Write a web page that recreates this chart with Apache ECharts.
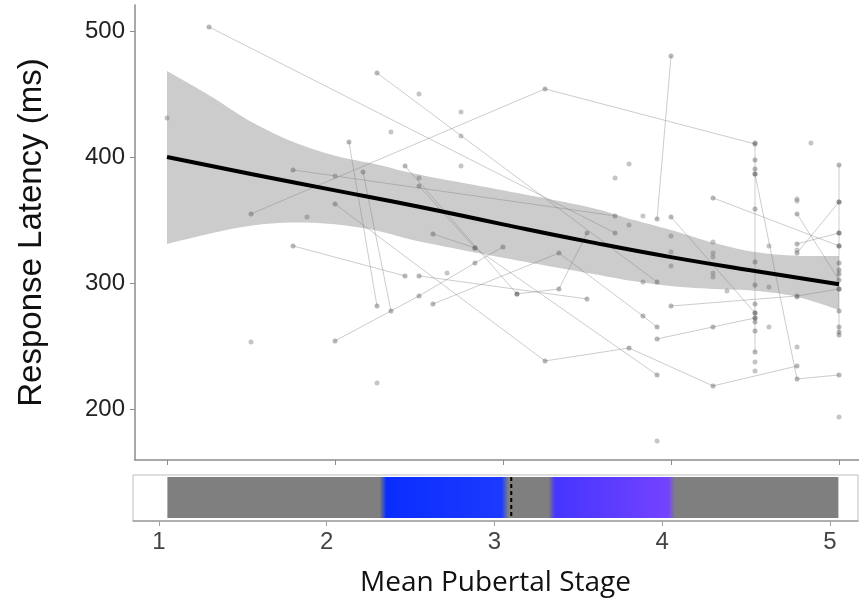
<!DOCTYPE html>
<html>
<head>
<meta charset="utf-8">
<script src="https://cdn.jsdelivr.net/npm/echarts@6/dist/echarts.min.js"></script>
<style>
  html, body { margin: 0; padding: 0; background: #ffffff; }
  #chart { width: 859px; height: 602px; }
</style>
</head>
<body>
<div id="chart"></div>
<script>
// ---------- data ----------
const xTicks = [1, 2, 3, 4, 5];
const yTicks = [200, 300, 400, 500];

// fitted trend line
const fitX = [1.0, 1.5, 2.0, 2.5, 3.0, 3.5, 4.0, 4.5, 5.0];
const fitY = [400, 386.5, 373.5, 360.5, 346.5, 333, 320.5, 309.5, 299];

// confidence band
const bandX = [1.0, 1.25, 1.5, 1.75, 2.0, 2.25, 2.5, 3.0, 3.5, 3.75, 4.0, 4.25, 4.5, 4.75, 5.0];
const bandUpper = [468.3, 449, 428, 412, 401, 394, 386, 373.5, 360.5, 351, 342, 332, 324.5, 321.6, 321.4];
const bandLower = [331, 339, 345.5, 348, 346.5, 341.5, 333, 320, 308, 302, 297.5, 295.3, 293.8, 289, 278.6];

// individual trajectories (pubertal stage, latency)
const tracks = [
  [[1.25, 503.2], [3.667, 339.7]],
  [[2.25, 466.7], [3.917, 300.8]],
  [[2.083, 411.9], [2.25, 281.7]],
  [[2.167, 388.1], [2.333, 277.8]],
  [[1.75, 389.7], [3.667, 353.2]],
  [[1.5, 354.8], [3.25, 454.0], [4.5, 410.3]],
  [[2.0, 362.7], [3.25, 238.1], [3.75, 248.4], [4.25, 218.3], [4.75, 234.1]],
  [[3.917, 255.6], [4.25, 265.1], [4.5, 272.2]],
  [[2.583, 338.9], [2.833, 327.8], [3.917, 227.0]],
  [[2.417, 392.9], [3.083, 291.3]],
  [[2.0, 254.0], [2.5, 289.7], [2.833, 315.9], [3.0, 328.6]],
  [[2.583, 283.3], [3.333, 323.8], [3.833, 273.8], [3.917, 265.1]],
  [[3.083, 291.3], [3.333, 295.2], [3.5, 339.7]],
  [[4.0, 480.2], [3.917, 350.8]],
  [[4.25, 367.5], [5.0, 329.4]],
  [[4.5, 386.5], [4.75, 223.8], [5.0, 227.0]],
  [[4.75, 354.8], [5.0, 302.4]],
  [[5.0, 364.3], [4.75, 323.8]],
  [[4.75, 331.0], [5.0, 339.7]],
  [[4.0, 352.4], [4.5, 276.2]],
  [[4.0, 281.7], [4.75, 289.7], [5.0, 295.2]],
  [[1.75, 329.4], [2.417, 305.6]],
  [[2.5, 377.0], [2.833, 327.8]],
  [[2.5, 305.6], [3.5, 287.3]],
  [[4.5, 411.1], [4.5, 397.6], [4.5, 390.5], [4.5, 386.5], [4.5, 358.7], [4.5, 316.7], [4.5, 298.4],
   [4.5, 283.3], [4.5, 276.2], [4.5, 272.2], [4.5, 269.0], [4.5, 261.9], [4.5, 245.2]],
  [[5.0, 393.7], [5.0, 364.3], [5.0, 339.7], [5.0, 329.4], [5.0, 315.9], [5.0, 310.3], [5.0, 307.1],
   [5.0, 295.2], [5.0, 277.8], [5.0, 265.1], [5.0, 261.1], [5.0, 258.7]]
];

// single observations
const singles = [
  [1.0, 431.0], [1.5, 253.2], [1.833, 352.4], [2.0, 384.9], [2.25, 220.6], [2.333, 419.8],
  [2.5, 450.0], [2.75, 435.7], [2.75, 416.7], [2.75, 392.9], [2.5, 383.3], [2.667, 307.9],
  [3.667, 383.3], [3.75, 394.4], [3.833, 353.2], [4.0, 337.3], [4.0, 324.6], [4.0, 313.5],
  [3.833, 300.8], [4.25, 332.5], [4.25, 323.8], [4.25, 320.6], [4.25, 307.9], [4.25, 304.8],
  [4.333, 293.7], [4.583, 329.4], [4.583, 296.8], [4.583, 265.1], [4.75, 366.7], [4.75, 365.1],
  [4.75, 326.2], [4.75, 288.9], [4.75, 249.2], [4.833, 411.1], [5.0, 193.7], [3.917, 174.6],
  [4.5, 237.3], [4.5, 230.2], [3.75, 346.0]
];

// bottom strip
const stripRange = [1.05, 5.05];
const highlightRegions = [[2.335, 3.063], [3.341, 4.056]];
const dashedMark = 3.10;

// ---------- chart ----------
const chart = echarts.init(document.getElementById('chart'), null, { renderer: 'canvas' });

const GRAY = '#7f7f7f';
const regionColors = [['#0a2dff', '#1c3aff'], ['#4535ff', '#7443ff']];
const blur = 0.02;
const span = stripRange[1] - stripRange[0];
const off = v => Math.min(1, Math.max(0, (v - stripRange[0]) / span));
const stops = [{ offset: 0, color: GRAY }];
highlightRegions.forEach((r, i) => {
  stops.push({ offset: off(r[0] - blur), color: GRAY });
  stops.push({ offset: off(r[0] + blur), color: regionColors[i][0] });
  stops.push({ offset: off(r[1] - blur), color: regionColors[i][1] });
  stops.push({ offset: off(r[1] + blur), color: GRAY });
});
stops.push({ offset: 1, color: GRAY });

// Catmull-Rom smoothing of projected pixel points (drawing only)
function smoothPixels(pts, steps) {
  const out = [];
  for (let i = 0; i < pts.length - 1; i++) {
    const p0 = pts[Math.max(0, i - 1)], p1 = pts[i], p2 = pts[i + 1], p3 = pts[Math.min(pts.length - 1, i + 2)];
    for (let s = 0; s < steps; s++) {
      const t = s / steps, t2 = t * t, t3 = t2 * t;
      const f = (a, b, c, d) => 0.5 * ((2 * b) + (-a + c) * t + (2 * a - 5 * b + 4 * c - d) * t2 + (-a + 3 * b - 3 * c + d) * t3);
      out.push([f(p0[0], p1[0], p2[0], p3[0]), f(p0[1], p1[1], p2[1], p3[1])]);
    }
  }
  out.push(pts[pts.length - 1]);
  return out;
}

const ptStyle = { color: 'rgba(95,95,95,0.45)' };
const lnStyle = { color: 'rgba(120,120,120,0.38)', width: 1 };

const series = [];

series.push({
  type: 'custom',
  xAxisIndex: 0, yAxisIndex: 0,
  z: 1,
  silent: true,
  data: [0],
  renderItem: function (params, api) {
    const up = bandX.map((x, i) => api.coord([x, bandUpper[i]]));
    const lo = bandX.map((x, i) => api.coord([x, bandLower[i]]));
    const pts = smoothPixels(up, 12).concat(smoothPixels(lo, 12).reverse());
    return { type: 'polygon', shape: { points: pts }, style: { fill: '#cccccc' } };
  }
});

tracks.forEach(t => {
  series.push({
    type: 'line',
    xAxisIndex: 0, yAxisIndex: 0,
    z: 3,
    data: t,
    symbol: 'circle',
    symbolSize: 5,
    showSymbol: true,
    itemStyle: ptStyle,
    lineStyle: lnStyle,
    silent: true
  });
});

series.push({
  type: 'scatter',
  xAxisIndex: 0, yAxisIndex: 0,
  z: 3,
  symbolSize: 5,
  itemStyle: ptStyle,
  data: singles,
  silent: true
});

series.push({
  type: 'line',
  xAxisIndex: 0, yAxisIndex: 0,
  z: 5,
  smooth: true,
  showSymbol: false,
  symbol: 'none',
  data: fitX.map((x, i) => [x, fitY[i]]),
  lineStyle: { color: '#000000', width: 4 },
  silent: true
});

series.push({
  type: 'custom',
  xAxisIndex: 1, yAxisIndex: 1,
  z: 3,
  silent: true,
  data: [0],
  renderItem: function (params, api) {
    const p0 = api.coord([stripRange[0], 0.955]);
    const p1 = api.coord([stripRange[1], 0.065]);
    const d0 = api.coord([dashedMark, 0.955]);
    const d1 = api.coord([dashedMark, 0.065]);
    return {
      type: 'group',
      children: [
        {
          type: 'rect',
          shape: { x: p0[0], y: p0[1], width: p1[0] - p0[0], height: p1[1] - p0[1] },
          style: { fill: new echarts.graphic.LinearGradient(0, 0, 1, 0, stops) }
        },
        {
          type: 'line',
          shape: { x1: d0[0], y1: d0[1], x2: d1[0], y2: d1[1] },
          style: { stroke: '#000000', lineWidth: 2, lineDash: [4, 3] }
        }
      ]
    };
  }
});

const option = {
  animation: false,
  backgroundColor: '#ffffff',
  grid: [
    { left: 135, top: 5, width: 724, height: 455 },
    { left: 133, top: 475, width: 725, height: 46, show: true, borderColor: '#bdbdbd', borderWidth: 1, backgroundColor: '#ffffff' }
  ],
  xAxis: [
    {
      type: 'value', gridIndex: 0, min: 0.8095, max: 5.119,
      axisLine: { show: true, onZero: false, lineStyle: { color: '#8c8c8c', width: 1.5 } },
      axisTick: { show: true, length: 5, customValues: xTicks, lineStyle: { color: '#8c8c8c' } },
      axisLabel: { show: false },
      splitLine: { show: false }
    },
    {
      type: 'value', gridIndex: 1, min: 0.845, max: 5.167,
      axisLine: { show: true, onZero: false, lineStyle: { color: '#a0a0a0', width: 1.5 } },
      axisTick: { show: true, length: 5, customValues: xTicks, lineStyle: { color: '#a0a0a0' } },
      axisLabel: { show: true, customValues: xTicks, fontSize: 24, color: '#444444', margin: 9, fontFamily: 'Liberation Sans, Arial, sans-serif' },
      splitLine: { show: false },
      name: 'Mean Pubertal Stage',
      nameLocation: 'middle',
      nameGap: 48,
      nameTextStyle: { fontSize: 28, color: '#111111', fontFamily: 'Open Sans, sans-serif' }
    }
  ],
  yAxis: [
    {
      type: 'value', gridIndex: 0, min: 159.5, max: 520.6,
      axisLine: { show: true, onZero: false, lineStyle: { color: '#8c8c8c', width: 1.5 } },
      axisTick: { show: true, length: 5, customValues: yTicks, lineStyle: { color: '#8c8c8c' } },
      axisLabel: { show: true, customValues: yTicks, fontSize: 24, color: '#222222', margin: 10, fontFamily: 'Liberation Sans, Arial, sans-serif' },
      splitLine: { show: false },
      name: 'Response Latency (ms)',
      nameLocation: 'middle',
      nameGap: 87,
      nameTextStyle: { fontSize: 33, color: '#111111', fontFamily: 'Liberation Sans, Arial, sans-serif' }
    },
    {
      type: 'value', gridIndex: 1, min: 0, max: 1, show: false
    }
  ],
  series: series
};

chart.setOption(option);
</script>
</body>
</html>
